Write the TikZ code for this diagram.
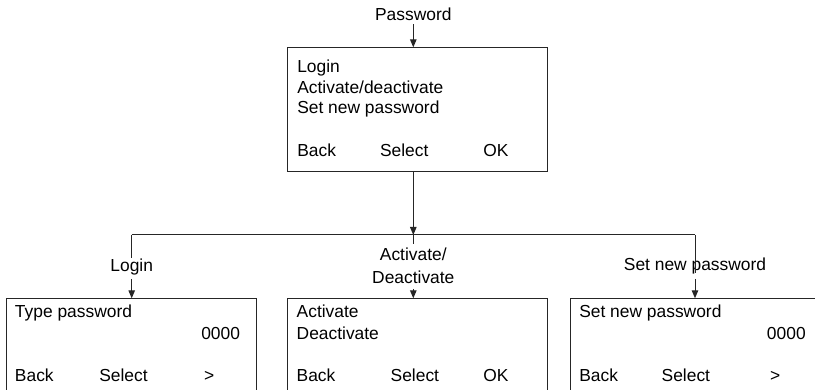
\documentclass[tikz,border=0pt]{standalone}
\usepackage{fontspec}
\setmainfont{Liberation Sans}
\usetikzlibrary{arrows.meta}
\begin{document}
\begin{tikzpicture}[x=1pt,y=-1pt,
  every node/.style={font=\fontsize{17.4}{20}\selectfont, text=black, inner sep=0pt, outer sep=0pt},
  txt/.style={anchor=base west},
  txtr/.style={anchor=base east},
  lbl/.style={anchor=base, align=center},
  screen/.style={draw=black!85, line width=1pt, anchor=north west, minimum height=130pt},
  conn/.style={draw=black!85, line width=1pt},
  arr/.style={conn, -{Triangle[width=6.5pt,length=8pt]}}]
\useasboundingbox (0,0) rectangle (815,390);
\clip (0,0) rectangle (815,390);

% screens
\node[screen, minimum width=260pt, minimum height=124.4pt] (top) at (287.3,47.3) {};
\node[screen, minimum width=250.7pt] (left) at (6,298.3) {};
\node[screen, minimum width=260pt] (mid) at (287.3,298.3) {};
\node[screen, minimum width=250.7pt] (right) at (570.7,298.3) {};

% top entry
\node[lbl] (pw) at (413.3,20.7) {Password};
\draw[arr, shorten <=3.5pt] (pw.south) -- (pw.south |- top.north);

% top screen text
\node[txt] (t1) at (297.3,72.7) {Login};
\node[txt] (t2) at (297.3,93.3) {Activate/deactivate};
\node[txt] (t3) at (297.3,113.3) {Set new password};
\node[txt] (t4) at (297.3,157) {Back};
\node[txt] (t5) at (380,157) {Select};
\node[txt] (t6) at (483.3,157) {OK};

% branching
\coordinate (j) at (413.3,235);
\coordinate (hl) at (131.7,235);
\coordinate (hr) at (695,235);
\draw[arr] (top.south -| j) -- (j);
\draw[conn] (hl) -- (hr);

% branch labels
\node[lbl] (llog) at (131.7,272) {Login};
\node[lbl, font=\fontsize{17.4}{22.7}\selectfont] (lact) at (413.3,283.3) {Activate/\\Deactivate};
\node[lbl] (lset) at (695,270.7) {Set new password};

\coordinate (la) at (131.7,279);
\coordinate (ma) at (413.3,289);
\coordinate (rs) at (695,273);
\coordinate (ra) at (695,279);

\draw[conn, shorten >=1.5pt] (hl) -- (hl |- llog.north);
\draw[arr] (la) -- (la |- left.north);
\draw[conn, shorten >=4pt] (j) -- (j |- lact.north);
\draw[arr] (ma) -- (ma |- mid.north);
\draw[conn] (hr) -- (rs);
\draw[arr] (ra) -- (ra |- right.north);

% left screen
\node[txt] (a1) at (15,318) {Type password};
\node[txtr] (a2) at (240,340) {0000};
\node[txt] (a3) at (15,381.7) {Back};
\node[txt] (a4) at (99.3,381.7) {Select};
\node[txt] (a5) at (204,381.7) {>};

% middle screen
\node[txt] (b1) at (296.7,318) {Activate};
\node[txt] (b2) at (296.7,340) {Deactivate};
\node[txt] (b3) at (296.7,381.7) {Back};
\node[txt] (b4) at (390.7,381.7) {Select};
\node[txt] (b5) at (483.3,381.7) {OK};

% right screen
\node[txt] (c1) at (579.3,318) {Set new password};
\node[txtr] (c2) at (805.7,340) {0000};
\node[txt] (c3) at (579.3,381.7) {Back};
\node[txt] (c4) at (661.7,381.7) {Select};
\node[txt] (c5) at (770,381.7) {>};
\end{tikzpicture}
\end{document}
